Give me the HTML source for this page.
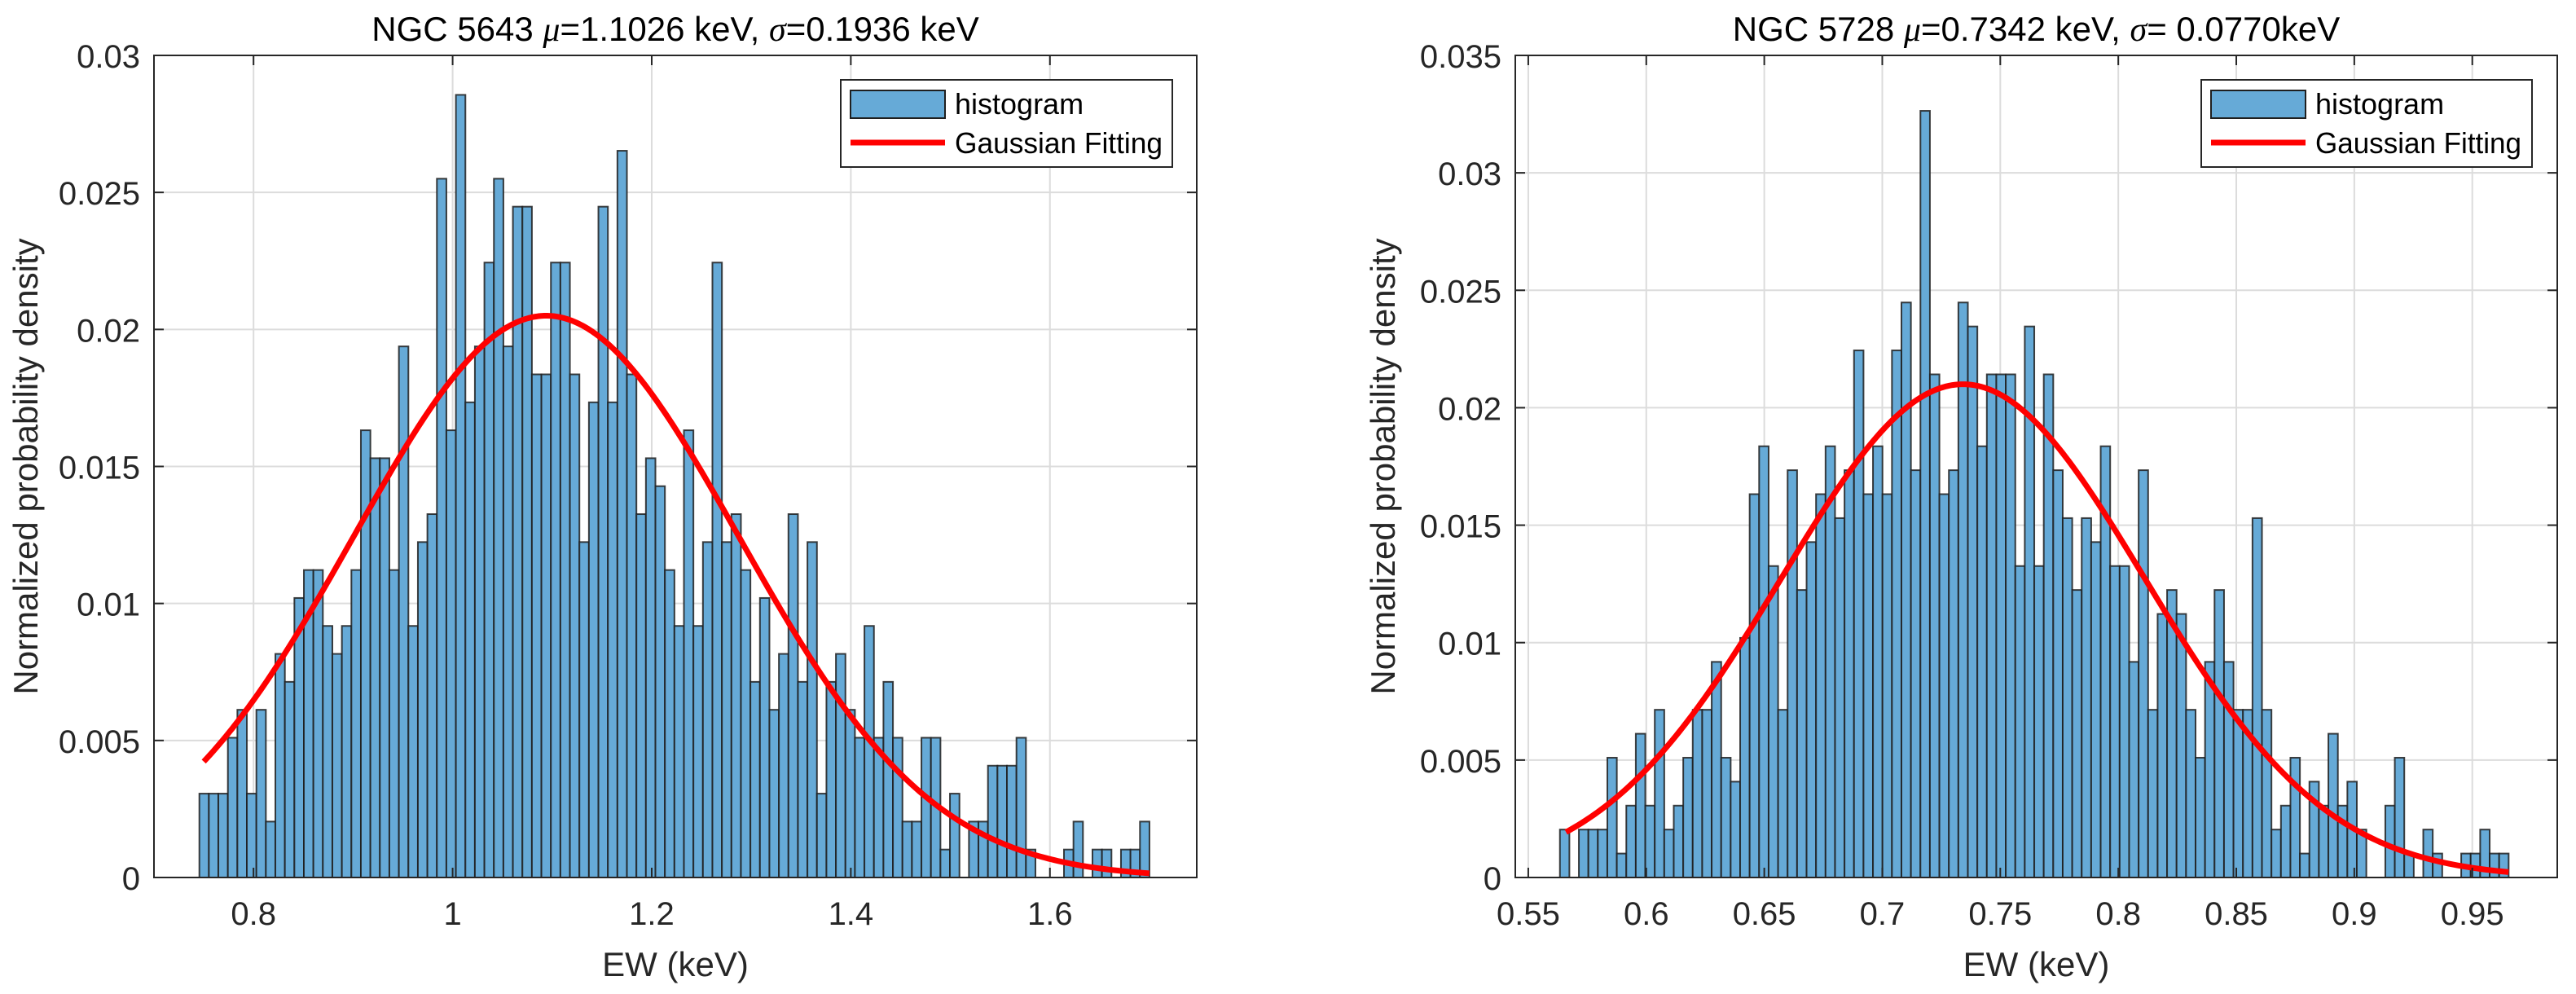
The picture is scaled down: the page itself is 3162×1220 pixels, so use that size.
<!DOCTYPE html>
<html>
<head>
<meta charset="utf-8">
<style>
  html,body{margin:0;padding:0;background:#fff;}
  svg{display:block;font-family:"Liberation Sans",Arial,sans-serif;}
</style>
</head>
<body>
<svg id="fig" width="3162" height="1220" viewBox="0 0 3162 1220" xmlns="http://www.w3.org/2000/svg"></svg>
<script>
// ---------- Left chart data (NGC 5643) ----------
const leftBinStart = 0.7456;
const leftBinWidth = 0.009544;
const leftCounts = [3,3,3,5,6,3,6,2,8,7,10,11,11,9,8,9,11,16,15,15,11,19,9,12,13,25,16,28,17,19,22,25,19,24,24,18,18,22,22,18,12,17,24,17,26,18,13,15,14,11,9,16,
  9,12,22,12,13,11,7,10,6,8,13,7,12,3,7,8,6,5,9,5,7,5,2,2,5,5,1,3,0,2,2,4,4,4,5,1,0,0,0,1,2,0,1,1,0,1,1,2];
const leftXTicks = [0.8,1.0,1.2,1.4,1.6];
const leftXTickLabels = ["0.8","1","1.2","1.4","1.6"];
const leftYTicks = [0,0.005,0.01,0.015,0.02,0.025,0.03];
const leftYTickLabels = ["0","0.005","0.01","0.015","0.02","0.025","0.03"];
const leftFit = {center:1.094, sigma:0.1936, peak:0.0205, from:0.75, to:1.70};

// ---------- Right chart data (NGC 5728) ----------
const rightBinStart = 0.5634;
const rightBinWidth = 0.00402;
const rightCounts = [2,0,2,2,2,5,1,3,6,3,7,2,3,5,7,7,9,5,4,10,16,18,13,7,17,12,14,16,18,15,17,22,16,18,16,22,24,17,32,21,16,17,24,23,18,21,21,21,13,23,13,21,
  17,15,12,15,14,18,13,13,9,17,7,11,12,11,7,5,9,12,9,7,7,15,7,2,3,5,1,4,3,6,3,4,2,0,0,3,5,1,0,2,1,0,0,1,1,2,1,1];
const rightXTicks = [0.55,0.6,0.65,0.7,0.75,0.8,0.85,0.9,0.95];
const rightXTickLabels = ["0.55","0.6","0.65","0.7","0.75","0.8","0.85","0.9","0.95"];
const rightYTicks = [0,0.005,0.01,0.015,0.02,0.025,0.03,0.035];
const rightYTickLabels = ["0","0.005","0.01","0.015","0.02","0.025","0.03","0.035"];
const rightFit = {center:0.7342, sigma:0.0770, peak:0.0210, from:0.5660, to:0.9654};

const densityPerCount = 0.00102;

const NS = "http://www.w3.org/2000/svg";
const svg = document.getElementById('fig');
function mk(tag, attrs, parent){
  const e = document.createElementNS(NS, tag);
  for (const k in attrs) e.setAttribute(k, attrs[k]);
  (parent||svg).appendChild(e);
  return e;
}

function drawChart(cfg){
  const g = mk('g', {});
  
  
  const L=cfg.left, R=cfg.right, T=cfg.top, B=cfg.bottom;
  const sx = v => L + (v - cfg.xmin)/(cfg.xmax - cfg.xmin)*(R-L);
  const sy = v => B - (v - cfg.ymin)/(cfg.ymax - cfg.ymin)*(B-T);

  const grid = mk('g', {}, g);
  
  
  cfg.xticks.forEach(t => {
    const l = mk('line', {x1:sx(t), x2:sx(t), y1:T, y2:B, stroke:'#dcdcdc', 'stroke-width':2}, grid);
    
    
  });
  cfg.yticks.forEach(t => {
    const l = mk('line', {x1:L, x2:R, y1:sy(t), y2:sy(t), stroke:'#dcdcdc', 'stroke-width':2}, grid);
    
    
  });

  const bars = mk('g', {}, g);
  
  
  cfg.counts.forEach((c, i) => {
    const x0 = sx(cfg.binStart + i*cfg.binWidth);
    const x1 = sx(cfg.binStart + (i+1)*cfg.binWidth);
    const v = c*densityPerCount;
    const y = sy(v);
    const r = mk('rect', {x:x0, y:y, width:x1-x0, height:Math.max(B-y,0.01),
      fill:'#66aad7', stroke:'#1f1f1f', 'stroke-width':2, 'stroke-opacity':0.85}, bars);
    
    
  });

  const f = cfg.fit;
  let d = '';
  const n = 300;
  for (let i=0;i<=n;i++){
    const xv = f.from + (f.to-f.from)*i/n;
    const yv = f.peak*Math.exp(-Math.pow(xv-f.center,2)/(2*f.sigma*f.sigma));
    d += (i?'L':'M') + sx(xv).toFixed(2) + ' ' + sy(yv).toFixed(2);
  }
  const curve = mk('path', {d:d, fill:'none', stroke:'#ff0000', 'stroke-width':7, 'stroke-linejoin':'round'}, g);
  
  

  const box = mk('rect', {x:L, y:T, width:R-L, height:B-T, fill:'none', stroke:'#262626', 'stroke-width':2}, g);
  
  

  const tl = 12;
  cfg.xticks.forEach((t,i) => {
    mk('line', {x1:sx(t), x2:sx(t), y1:B, y2:B-tl, stroke:'#262626','stroke-width':2}, g);
    mk('line', {x1:sx(t), x2:sx(t), y1:T, y2:T+tl, stroke:'#262626','stroke-width':2}, g);
    const tx = mk('text', {x:sx(t), y:B+58, 'text-anchor':'middle', 'font-size':40, fill:'#262626'}, g);
    tx.textContent = cfg.xlabels[i];
    
    
  });
  cfg.yticks.forEach((t,i) => {
    mk('line', {x1:L, x2:L+tl, y1:sy(t), y2:sy(t), stroke:'#262626','stroke-width':2}, g);
    mk('line', {x1:R, x2:R-tl, y1:sy(t), y2:sy(t), stroke:'#262626','stroke-width':2}, g);
    const ty = mk('text', {x:L-17, y:sy(t)+15, 'text-anchor':'end', 'font-size':40, fill:'#262626'}, g);
    ty.textContent = cfg.ylabels[i];
    
    
  });

  const xl = mk('text', {x:(L+R)/2, y:1198, 'text-anchor':'middle', 'font-size':42, fill:'#262626'}, g);
  xl.textContent = 'EW (keV)';
  
  
  const yl = mk('text', {x:0, y:0, 'text-anchor':'middle', 'font-size':42, fill:'#262626',
    transform:'translate(' + cfg.ylabelX + ',' + ((T+B)/2) + ') rotate(-90)'}, g);
  yl.textContent = 'Normalized probability density';
  
  

  const title = mk('text', {x:(L+R)/2, y:50, 'text-anchor':'middle', 'font-size':42, fill:'#000'}, g);
  
  
  cfg.title.forEach(part => {
    const s = mk('tspan', {}, title);
    if (part.it) { s.setAttribute('font-style','italic'); s.setAttribute('font-family','"Liberation Serif",serif'); }
    s.textContent = part.t;
  });

  const lg = mk('g', {}, g);
  
  
  const lgx = cfg.legend.x, lgw = cfg.legend.w;
  mk('rect', {x:lgx, y:98, width:lgw, height:107, fill:'#fff', stroke:'#262626', 'stroke-width':2}, lg);
  const patch = mk('rect', {x:lgx+12, y:111, width:116, height:34, fill:'#66aad7', stroke:'#1f1f1f', 'stroke-width':2}, lg);
  
  
  const ll = mk('line', {x1:lgx+12, x2:lgx+128, y1:175, y2:175, stroke:'#ff0000', 'stroke-width':7}, lg);
  
  
  const t1 = mk('text', {x:lgx+140, y:140, 'font-size':36, fill:'#000'}, lg);
  t1.textContent = 'histogram';
  
  
  const t2 = mk('text', {x:lgx+140, y:188, 'font-size':36, fill:'#000', textLength:cfg.legend.tw, lengthAdjust:'spacingAndGlyphs'}, lg);
  t2.textContent = 'Gaussian Fitting';
  
  
}

drawChart({
  name:'ngc5643-chart', left:189, right:1469, top:68, bottom:1077,
  xmin:0.7, xmax:1.7475, ymin:0, ymax:0.03,
  xticks:leftXTicks, xlabels:leftXTickLabels, yticks:leftYTicks, ylabels:leftYTickLabels,
  counts:leftCounts, binStart:leftBinStart, binWidth:leftBinWidth, fit:leftFit,
  ylabelX:46,
  title:[{t:'NGC 5643 '},{t:'μ',it:true},{t:'=1.1026 keV, '},{t:'σ',it:true},{t:'=0.1936 keV'}],
  legend:{x:1032, w:407, tw:255}
});
drawChart({
  name:'ngc5728-chart', left:1860, right:3139, top:68, bottom:1077,
  xmin:0.5445, xmax:0.9860, ymin:0, ymax:0.035,
  xticks:rightXTicks, xlabels:rightXTickLabels, yticks:rightYTicks, ylabels:rightYTickLabels,
  counts:rightCounts, binStart:rightBinStart, binWidth:rightBinWidth, fit:rightFit,
  ylabelX:1712,
  title:[{t:'NGC 5728 '},{t:'μ',it:true},{t:'=0.7342 keV, '},{t:'σ',it:true},{t:'= 0.0770keV'}],
  legend:{x:2702, w:406, tw:253}
});
</script>
</body>
</html>
